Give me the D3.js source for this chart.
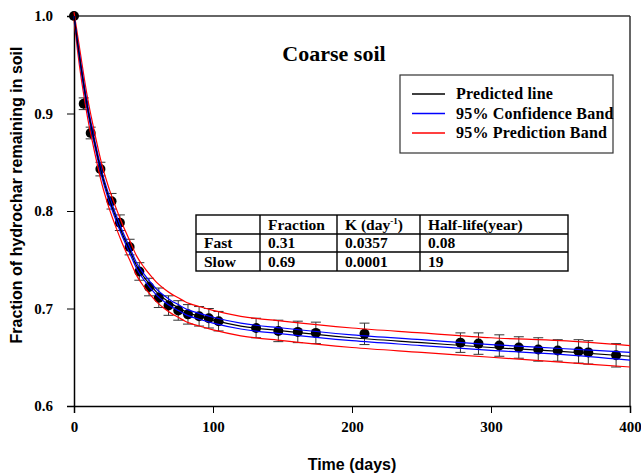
<!DOCTYPE html>
<html>
<head>
<meta charset="utf-8">
<script src="https://cdn.jsdelivr.net/npm/d3@7"></script>
<style>
  body { margin: 0; background: #fff; }
  svg { display: block; }
  .tick text { font-family: "Liberation Serif", serif; font-weight: bold; font-size: 15px; fill: #000; }
</style>
</head>
<body>
<svg id="chart"></svg>
<script>
// observed data (days, fraction remaining, error)
const days = [0, 7, 12, 19, 27, 33, 40, 47, 54, 61, 68, 75, 82, 90, 97, 104,
  131, 147, 161, 174, 209, 278, 291, 306, 320, 334, 348, 363, 370, 390];
const fraction = [1.000, 0.910, 0.880, 0.843, 0.810, 0.788, 0.763, 0.738, 0.722, 0.711,
  0.703, 0.698, 0.694, 0.692, 0.690, 0.687, 0.680, 0.677, 0.676, 0.675,
  0.674, 0.665, 0.664, 0.662, 0.660, 0.658, 0.657, 0.656, 0.655, 0.652];
const errors = [0, 0.006, 0.006, 0.007, 0.008, 0.008, 0.008, 0.009, 0.009, 0.010,
  0.010, 0.010, 0.010, 0.010, 0.010, 0.010, 0.010, 0.011, 0.011, 0.011,
  0.011, 0.010, 0.011, 0.011, 0.011, 0.012, 0.011, 0.012, 0.012, 0.012];

// predicted line and bands
const fitDays = [0, 2.5, 5, 7.5, 10, 12.5, 15, 17.5, 20, 25, 30, 35, 40, 45, 50, 55, 60, 65,
  70, 75, 80, 90, 100, 120, 150, 200, 250, 300, 350, 400];
const fitValue = [1.000, 0.973, 0.948, 0.925, 0.904, 0.886, 0.869, 0.853, 0.838, 0.814,
  0.794, 0.776, 0.760, 0.744, 0.733, 0.724, 0.716, 0.710, 0.705, 0.701, 0.697,
  0.692, 0.688, 0.682, 0.677, 0.670, 0.665, 0.660, 0.656, 0.651];
const confHalf = [0.000, 0.002, 0.003, 0.003, 0.003, 0.003, 0.003, 0.003, 0.003, 0.003,
  0.003, 0.003, 0.003, 0.003, 0.003, 0.003, 0.003, 0.003, 0.003, 0.003, 0.003,
  0.003, 0.003, 0.003, 0.003, 0.003, 0.003, 0.003, 0.003, 0.004];
const predHalf = [0.004, 0.008, 0.010, 0.010, 0.010, 0.010, 0.010, 0.010, 0.010, 0.010,
  0.010, 0.010, 0.010, 0.010, 0.010, 0.010, 0.010, 0.010, 0.010, 0.010, 0.010,
  0.010, 0.010, 0.010, 0.010, 0.010, 0.010, 0.010, 0.011, 0.011];

const xTicks = [0, 100, 200, 300, 400];
const yTicks = [0.6, 0.7, 0.8, 0.9, 1.0];

const legendItems = ["Predicted line", "95% Confidence Band", "95% Prediction Band"];
const legendColors = ["#000000", "#0000ff", "#ff0000"];

const tableHeader = ["", "Fraction", "K (day-1)", "Half-life(year)"];
const tableRows = [
  ["Fast", "0.31", "0.0357", "0.08"],
  ["Slow", "0.69", "0.0001", "19"]
];

const W = 641, H = 475;
const margin = { top: 16, right: 11, bottom: 69, left: 74 };

const svg = d3.select("#chart").attr("width", W).attr("height", H);

const x = d3.scaleLinear().domain([0, 400]).range([margin.left, W - margin.right]);
const y = d3.scaleLinear().domain([0.6, 1.0]).range([H - margin.bottom, margin.top]);

// frame (top + right)
svg.append("line")
  .attr("x1", x(0)).attr("x2", x(400)).attr("y1", y(1.0)).attr("y2", y(1.0))
  .attr("stroke", "#333").attr("stroke-width", 1.5);
svg.append("line")
  .attr("x1", x(400)).attr("x2", x(400)).attr("y1", y(1.0)).attr("y2", y(0.6))
  .attr("stroke", "#333").attr("stroke-width", 1.5);

// axes
const xAxis = svg.append("g")
  .attr("transform", `translate(0, ${y(0.6)})`)
  .call(d3.axisBottom(x).tickValues(xTicks).tickFormat(d3.format("d")).tickSizeOuter(0).tickSize(7).tickPadding(8));
const yAxis = svg.append("g")
  .attr("transform", `translate(${x(0)}, 0)`)
  .call(d3.axisLeft(y).tickValues(yTicks).tickFormat(d3.format(".1f")).tickSizeOuter(0).tickSize(7).tickPadding(14));
[xAxis, yAxis].forEach(g => {
  g.select(".domain").attr("stroke", "#000").attr("stroke-width", 1.5);
  g.selectAll(".tick line").attr("stroke", "#000").attr("stroke-width", 1);
});

// axis titles
svg.append("text")
  .attr("x", (x(0) + x(400)) / 2)
  .attr("y", 470)
  .attr("text-anchor", "middle")
  .attr("font-family", "Liberation Sans, Arial, sans-serif")
  .attr("font-weight", "bold")
  .attr("font-size", 16)
  .text("Time (days)");

svg.append("text")
  .attr("transform", "translate(22, 195) rotate(-90)")
  .attr("text-anchor", "middle")
  .attr("font-family", "Liberation Sans, Arial, sans-serif")
  .attr("font-weight", "bold")
  .attr("font-size", 16)
  .text("Fraction of hydrochar remaining in soil");

// chart title
svg.append("text")
  .attr("x", 334).attr("y", 61)
  .attr("text-anchor", "middle")
  .attr("font-family", "Liberation Serif, serif")
  .attr("font-weight", "bold")
  .attr("font-size", 22)
  .text("Coarse soil");

// error bars
const obs = days.map((d, i) => ({ t: d, v: fraction[i], e: errors[i] }));
const eb = svg.append("g").attr("stroke", "#333").attr("stroke-width", 1);
obs.filter(d => d.e > 0).forEach(d => {
  eb.append("line").attr("x1", x(d.t)).attr("x2", x(d.t)).attr("y1", y(d.v - d.e)).attr("y2", y(d.v + d.e));
  [d.v - d.e, d.v + d.e].forEach(v => {
    eb.append("line").attr("x1", x(d.t) - 5).attr("x2", x(d.t) + 5).attr("y1", y(v)).attr("y2", y(v));
  });
});

// points
svg.append("g").selectAll("circle")
  .data(obs)
  .join("circle")
  .attr("cx", d => x(d.t))
  .attr("cy", d => y(d.v))
  .attr("r", 5)
  .attr("fill", "#000");

// curves
const fit = fitDays.map((t, i) => ({ t, v: fitValue[i], c: confHalf[i], p: predHalf[i] }));
const line = acc => d3.line().x(d => x(d.t)).y(d => y(acc(d))).curve(d3.curveMonotoneX);
const curves = [
  { acc: d => d.v + d.p, color: "#ff0000" },
  { acc: d => d.v - d.p, color: "#ff0000" },
  { acc: d => d.v + d.c, color: "#0000ff" },
  { acc: d => d.v - d.c, color: "#0000ff" },
  { acc: d => d.v, color: "#000000" }
];
svg.append("g").selectAll("path")
  .data(curves)
  .join("path")
  .attr("d", c => line(c.acc)(fit))
  .attr("fill", "none")
  .attr("stroke", c => c.color)
  .attr("stroke-width", 1.2);

// legend
const lg = svg.append("g");
lg.append("rect")
  .attr("x", 400).attr("y", 75).attr("width", 213).attr("height", 78)
  .attr("fill", "#fff").attr("stroke", "#333").attr("stroke-width", 1.2);
legendItems.forEach((name, i) => {
  const ly = 94 + i * 19.5;
  lg.append("line").attr("x1", 412).attr("x2", 445).attr("y1", ly).attr("y2", ly)
    .attr("stroke", legendColors[i]).attr("stroke-width", 1.6);
  lg.append("text").attr("x", 456).attr("y", ly + 5)
    .attr("font-family", "Liberation Serif, serif").attr("font-weight", "bold").attr("font-size", 16)
    .attr("letter-spacing", 0.2)
    .text(name);
});

// table
const colX = [196, 260, 337, 420, 568];
const rowY = [215, 234, 252, 271];
const tb = svg.append("g");
tb.append("rect").attr("x", colX[0]).attr("y", rowY[0])
  .attr("width", colX[4] - colX[0]).attr("height", rowY[3] - rowY[0])
  .attr("fill", "#fff").attr("stroke", "#000").attr("stroke-width", 1.4);
colX.slice(1, 4).forEach(cx => tb.append("line").attr("x1", cx).attr("x2", cx).attr("y1", rowY[0]).attr("y2", rowY[3]).attr("stroke", "#000").attr("stroke-width", 1.4));
rowY.slice(1, 3).forEach(ry => tb.append("line").attr("x1", colX[0]).attr("x2", colX[4]).attr("y1", ry).attr("y2", ry).attr("stroke", "#000").attr("stroke-width", 1.4));
const cellText = (txt, c, r) => {
  const t = tb.append("text").attr("x", colX[c] + 8).attr("y", rowY[r + 1] - 4)
    .attr("font-family", "Liberation Serif, serif").attr("font-weight", "bold").attr("font-size", 15.5);
  if (txt === "K (day-1)") {
    t.append("tspan").text("K (day");
    t.append("tspan").attr("dy", -6).attr("font-size", 9).text("-1");
    t.append("tspan").attr("dy", 6).text(")");
  } else {
    t.text(txt);
  }
};
tableHeader.forEach((h, c) => { if (h) cellText(h, c, 0); });
tableRows.forEach((row, r) => row.forEach((v, c) => cellText(v, c, r + 1)));
</script>
</body>
</html>
